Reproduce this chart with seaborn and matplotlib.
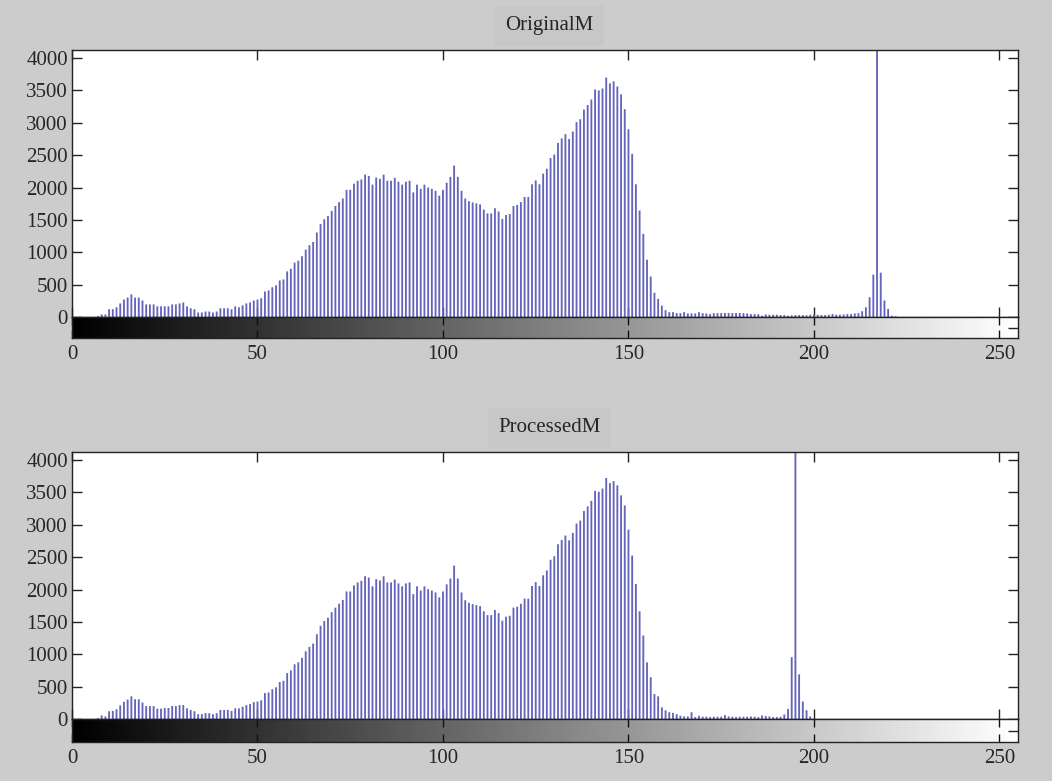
import numpy as np
import pandas as pd
import matplotlib
matplotlib.use('Agg')
from matplotlib import pyplot as plt
import seaborn as sns

# gray levels 0..255 and pixel counts
gray_levels = list(range(256))

original_counts = [
    0, 0, 0, 0, 0, 0, 0, 15, 40, 40, 120, 120, 150, 210, 270, 300,
    350, 300, 300, 255, 195, 195, 195, 165, 165, 165, 165, 195, 195, 210, 225, 165,
    135, 120, 70, 70, 85, 85, 70, 85, 135, 135, 135, 120, 165, 150, 180, 210,
    225, 255, 270, 290, 395, 410, 460, 490, 565, 580, 705, 745, 840, 870, 940, 1040,
    1110, 1160, 1305, 1435, 1510, 1560, 1640, 1715, 1775, 1830, 1965, 1965, 2060, 2105, 2125, 2200,
    2180, 2045, 2155, 2135, 2200, 2105, 2105, 2150, 2090, 2045, 2090, 2105, 1925, 2045, 1980, 2045,
    2000, 1980, 1950, 1875, 1965, 2075, 2165, 2340, 2165, 1950, 1830, 1790, 1770, 1755, 1740, 1660,
    1600, 1600, 1680, 1630, 1515, 1575, 1590, 1715, 1730, 1775, 1855, 1855, 2050, 2110, 2050, 2215,
    2290, 2455, 2510, 2690, 2760, 2825, 2750, 2865, 3010, 3055, 3205, 3275, 3360, 3515, 3500, 3530,
    3700, 3610, 3640, 3560, 3440, 3210, 2900, 2520, 2050, 1645, 1285, 885, 625, 375, 280, 175,
    105, 75, 75, 60, 60, 75, 55, 55, 55, 75, 60, 55, 45, 60, 60, 60,
    62, 62, 60, 62, 62, 60, 55, 45, 45, 45, 20, 40, 35, 35, 35, 30,
    30, 20, 25, 30, 30, 30, 25, 35, 35, 35, 30, 30, 35, 45, 35, 35,
    40, 45, 45, 55, 60, 90, 150, 305, 655, 9000, 685, 255, 125, 20, 10, 0,
    0, 0, 0, 0, 0, 0, 0, 0, 0, 0, 0, 0, 0, 0, 0, 0,
    0, 0, 0, 0, 0, 0, 0, 0, 0, 0, 0, 0, 0, 0, 0, 0,
]

processed_counts = [
    0, 0, 0, 0, 0, 0, 0, 15, 55, 40, 120, 125, 150, 210, 265, 300,
    350, 305, 305, 255, 200, 200, 200, 160, 160, 170, 170, 200, 200, 215, 215, 165,
    140, 120, 75, 75, 90, 90, 75, 90, 140, 140, 140, 125, 165, 165, 190, 215,
    230, 260, 270, 290, 400, 410, 460, 490, 570, 590, 710, 750, 845, 875, 945, 1045,
    1115, 1165, 1310, 1440, 1515, 1565, 1650, 1720, 1780, 1840, 1970, 1970, 2065, 2110, 2135, 2205,
    2185, 2050, 2160, 2140, 2205, 2110, 2110, 2155, 2095, 2050, 2095, 2110, 1930, 2050, 1985, 2050,
    2005, 1985, 1955, 1880, 1970, 2080, 2170, 2370, 2170, 1955, 1835, 1795, 1775, 1760, 1745, 1665,
    1605, 1605, 1685, 1635, 1520, 1580, 1595, 1720, 1735, 1780, 1860, 1860, 2055, 2115, 2055, 2220,
    2295, 2460, 2515, 2700, 2765, 2835, 2760, 2875, 3020, 3065, 3215, 3285, 3370, 3525, 3510, 3560,
    3725, 3645, 3675, 3610, 3455, 3300, 2925, 2525, 2085, 1665, 1290, 875, 645, 385, 350, 180,
    135, 105, 95, 75, 50, 40, 40, 105, 30, 50, 35, 35, 30, 35, 35, 35,
    60, 40, 35, 30, 35, 35, 35, 40, 35, 30, 55, 45, 40, 30, 30, 35,
    70, 155, 955, 9000, 690, 270, 135, 40, 0, 0, 0, 0, 0, 0, 0, 0,
    0, 0, 0, 0, 0, 0, 0, 0, 0, 0, 0, 0, 0, 0, 0, 0,
    0, 0, 0, 0, 0, 0, 0, 0, 0, 0, 0, 0, 0, 0, 0, 0,
    0, 0, 0, 0, 0, 0, 0, 0, 0, 0, 0, 0, 0, 0, 0, 0,
]

panel_titles = ["OriginalM", "ProcessedM"]
y_ticks = [0, 500, 1000, 1500, 2000, 2500, 3000, 3500, 4000]
x_ticks = [0, 50, 100, 150, 200, 250]

sns.set_style("ticks")
plt.rcParams['font.family'] = ['Liberation Serif', 'DejaVu Serif']
plt.rcParams['axes.linewidth'] = 1.0

W, H = 1052, 781
fig = plt.figure(figsize=(W / 100, H / 100), dpi=100, facecolor='#cccccc')

# (hist top, hist bottom, bar bottom) in pixels
layout = [(50, 317, 338), (452, 719, 742)]
left, right = 72, 1018
stem_color = '#6464bc'

for (top, zero, cbot), counts, title in zip(layout, [original_counts, processed_counts], panel_titles):
    df = pd.DataFrame({"level": gray_levels, "count": counts})

    ax = fig.add_axes([left / W, 1 - zero / H, (right - left) / W, (zero - top) / H])
    ax.set_facecolor('white')
    sns.histplot(data=df, x="level", weights="count", discrete=True, shrink=0.5,
                 color=stem_color, alpha=1.0, edgecolor='none', linewidth=0, ax=ax)
    for p in ax.patches:
        p.set_snap(False)
    ax.set_xlim(0, 255)
    ax.set_ylim(0, 4125)
    ax.set_xlabel("")
    ax.set_ylabel("")
    ax.set_yticks(y_ticks)
    ax.set_xticks(x_ticks)
    ax.tick_params(axis='both', direction='in', length=7, width=1, color='#222222',
                   top=True, right=True, labelsize=15, pad=3)
    ax.tick_params(axis='x', labelbottom=False)
    for s in ax.spines.values():
        s.set_visible(True)
        s.set_color('#222222')

    ax.annotate(title, xy=(0.5, 1.0), xycoords='axes fraction',
                xytext=(3, 17.5), textcoords='offset points',
                ha='center', va='center', fontsize=15,
                bbox=dict(boxstyle='square,pad=0.5', facecolor='#c7c7c7', edgecolor='none'))

    # grayscale bar under the histogram
    cax = fig.add_axes([left / W, 1 - cbot / H, (right - left) / W, (cbot - zero) / H])
    gradient = np.array(gray_levels, dtype=float).reshape(1, -1)
    cax.imshow(gradient, cmap='gray', aspect='auto', extent=[0, 255, 0, 1],
               vmin=0, vmax=255, interpolation='bilinear')
    cax.set_xlim(0, 255)
    cax.set_ylim(0, 1)
    cax.set_xticks(x_ticks)
    cax.set_yticks([0.5])
    cax.set_yticklabels([])
    cax.tick_params(axis='x', direction='in', length=6, width=1, color='#111111',
                    top=True, labelsize=15, pad=5)
    cax.tick_params(axis='y', direction='in', length=7, width=1, color='#222222',
                    left=False, right=True)
    for s in cax.spines.values():
        s.set_visible(True)
        s.set_color('#222222')

fig.savefig("out.png", dpi=100, facecolor=fig.get_facecolor())
